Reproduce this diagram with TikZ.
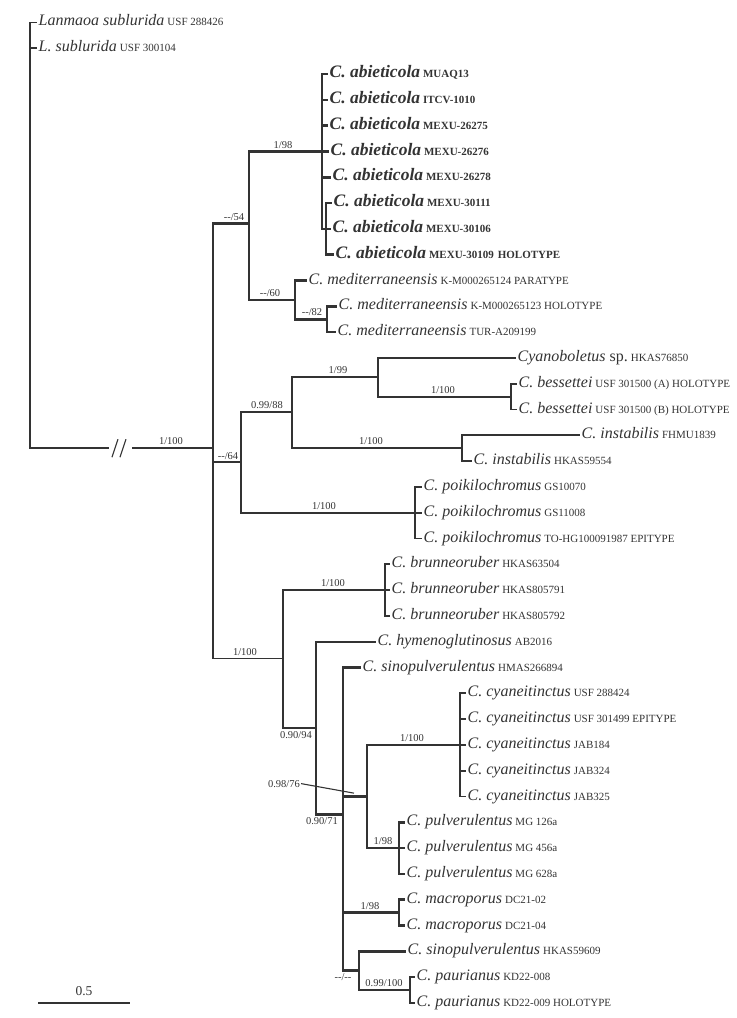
\documentclass[tikz,border=0pt]{standalone}
\usepackage{fontspec}
\setmainfont{Liberation Serif}
\usetikzlibrary{positioning}

\definecolor{treegray}{gray}{0.2}
\newcommand{\namesize}{\fontsize{16}{18}\selectfont}
\newcommand{\codesize}{\fontsize{11}{13}\selectfont}
\newcommand{\taxon}[2]{{\namesize\itshape #1}\hspace{3pt}{\codesize #2}}
\newcommand{\abiet}[1]{{\fontsize{17.5}{20}\selectfont\bfseries\itshape C. abieticola}\hspace{3pt}{\codesize\bfseries #1}}

\tikzset{
  branch/.style={draw=treegray, line width=1.8pt, line cap=rect, line join=miter},
  heavy/.style={branch, line width=2.6pt},
  leaf/.style={anchor=west, inner sep=2.5pt, text height=10pt, text depth=3pt, text=treegray},
  support/.style={font=\fontsize{10.5}{12}\selectfont, text=treegray, inner sep=1pt},
}

\begin{document}
\begin{tikzpicture}[x=1pt, y=-25.8pt]
  \useasboundingbox (0,-0.872) rectangle (736,38.585);

  % internal nodes (x in pt, y in rows)
  \coordinate (root) at (30,16.5);
  \coordinate (n1) at (213,16.5);
  \coordinate (n2) at (249,7.8);
  \coordinate (nA) at (322,5);
  \coordinate (nS) at (326,8);
  \coordinate (n4) at (295,10.75);
  \coordinate (n5) at (327,11.5);
  \coordinate (n3) at (241,17.05);
  \coordinate (n7) at (292,15.1);
  \coordinate (n8) at (378,13.75);
  \coordinate (n9) at (511,14.5);
  \coordinate (n10) at (462,16.5);
  \coordinate (n11) at (415,19);
  \coordinate (n12) at (283,24.65);
  \coordinate (n13) at (385,22);
  \coordinate (n14) at (316,27.35);
  \coordinate (n15) at (343,30.7);
  \coordinate (n16) at (367,30);
  \coordinate (n17) at (460,28);
  \coordinate (n18) at (399,32);
  \coordinate (n19) at (399,34.5);
  \coordinate (n20) at (359,36.75);
  \coordinate (n21) at (410,37.5);

  % leaves
  \node[leaf] (lan1) at (36,0) {\taxon{Lanmaoa sublurida}{USF 288426}};
  \node[leaf] (lan2) at (36,1) {\taxon{L. sublurida}{USF 300104}};
  \node[leaf] (abi1) at (327,2) {\abiet{MUAQ13}};
  \node[leaf] (abi2) at (327,3) {\abiet{ITCV-1010}};
  \node[leaf] (abi3) at (327,4) {\abiet{MEXU-26275}};
  \node[leaf] (abi4) at (328,5) {\abiet{MEXU-26276}};
  \node[leaf] (abi5) at (330,6) {\abiet{MEXU-26278}};
  \node[leaf] (abi6) at (331,7) {\abiet{MEXU-30111}};
  \node[leaf] (abi7) at (330,8) {\abiet{MEXU-30106}};
  \node[leaf] (abi8) at (333,9) {\abiet{MEXU-30109\hspace{4pt}HOLOTYPE}};
  \node[leaf] (med1) at (306,10) {\taxon{C. mediterraneensis}{K-M000265124 PARATYPE}};
  \node[leaf] (med2) at (336,11) {\taxon{C. mediterraneensis}{K-M000265123 HOLOTYPE}};
  \node[leaf] (med3) at (335,12) {\taxon{C. mediterraneensis}{TUR-A209199}};
  \node[leaf] (cyano) at (515,13) {{\namesize\itshape Cyanoboletus}{\namesize\ sp.}\hspace{3pt}{\codesize HKAS76850}};
  \node[leaf] (bes1) at (516,14) {\taxon{C. bessettei}{USF 301500 (A) HOLOTYPE}};
  \node[leaf] (bes2) at (516,15) {\taxon{C. bessettei}{USF 301500 (B) HOLOTYPE}};
  \node[leaf] (ins1) at (579,16) {\taxon{C. instabilis}{FHMU1839}};
  \node[leaf] (ins2) at (471,17) {\taxon{C. instabilis}{HKAS59554}};
  \node[leaf] (poi1) at (421,18) {\taxon{C. poikilochromus}{GS10070}};
  \node[leaf] (poi2) at (421,19) {\taxon{C. poikilochromus}{GS11008}};
  \node[leaf] (poi3) at (421,20) {\taxon{C. poikilochromus}{TO-HG100091987 EPITYPE}};
  \node[leaf] (bru1) at (389,21) {\taxon{C. brunneoruber}{HKAS63504}};
  \node[leaf] (bru2) at (389,22) {\taxon{C. brunneoruber}{HKAS805791}};
  \node[leaf] (bru3) at (389,23) {\taxon{C. brunneoruber}{HKAS805792}};
  \node[leaf] (hym) at (375,24) {\taxon{C. hymenoglutinosus}{AB2016}};
  \node[leaf] (sin1) at (360,25) {\taxon{C. sinopulverulentus}{HMAS266894}};
  \node[leaf] (cya1) at (465,26) {\taxon{C. cyaneitinctus}{USF 288424}};
  \node[leaf] (cya2) at (465,27) {\taxon{C. cyaneitinctus}{USF 301499 EPITYPE}};
  \node[leaf] (cya3) at (465,28) {\taxon{C. cyaneitinctus}{JAB184}};
  \node[leaf] (cya4) at (465,29) {\taxon{C. cyaneitinctus}{JAB324}};
  \node[leaf] (cya5) at (465,30) {\taxon{C. cyaneitinctus}{JAB325}};
  \node[leaf] (pul1) at (404,31) {\taxon{C. pulverulentus}{MG 126a}};
  \node[leaf] (pul2) at (404,32) {\taxon{C. pulverulentus}{MG 456a}};
  \node[leaf] (pul3) at (404,33) {\taxon{C. pulverulentus}{MG 628a}};
  \node[leaf] (mac1) at (404,34) {\taxon{C. macroporus}{DC21-02}};
  \node[leaf] (mac2) at (404,35) {\taxon{C. macroporus}{DC21-04}};
  \node[leaf] (sin2) at (405,36) {\taxon{C. sinopulverulentus}{HKAS59609}};
  \node[leaf] (pau1) at (414,37) {\taxon{C. paurianus}{KD22-008}};
  \node[leaf] (pau2) at (414,38) {\taxon{C. paurianus}{KD22-009 HOLOTYPE}};

  % main branch with break
  \coordinate (brk1) at (108,16.5);
  \coordinate (brk2) at (133,16.5);
  \draw[branch] (root) -- (brk1);
  \draw[branch] (brk2) -- (n1);
  \draw[treegray, line width=1.1pt] ([xshift=4pt,yshift=-9pt]brk1) -- ++(6pt,18pt)
    ([xshift=12pt,yshift=-9pt]brk1) -- ++(6pt,18pt);

  % branches
  \foreach \p/\c in {n1/n3, n1/n12, n3/n7, n3/n11, n7/n8, n7/n10, n8/n9, n12/n13, n12/n14}
    \draw[branch] (\p) |- (\c);
  \foreach \p/\c in {n1/n2, n2/nA, n2/n4, nA/nS, n4/n5, n14/n15, n15/n16, n15/n19, n15/n20, n16/n17, n16/n18, n20/n21}
    \draw[heavy] (\p) |- (\c);
  \foreach \p/\c in {root/lan1, root/lan2, n8/cyano, n9/bes1, n9/bes2, n10/ins1, n10/ins2,
      n11/poi1, n11/poi2, n11/poi3, n13/bru1, n13/bru2, n13/bru3, n14/hym,
      n17/cya1, n17/cya2, n17/cya3, n17/cya4, n17/cya5}
    \draw[branch] (\p) |- (\c.west);
  \foreach \p/\c in {nA/abi1, nA/abi2, nA/abi3, nA/abi4, nA/abi5, nS/abi6, nS/abi7, nS/abi8,
      n4/med1, n5/med2, n5/med3, n15/sin1, n18/pul1, n18/pul2, n18/pul3,
      n19/mac1, n19/mac2, n20/sin2, n21/pau1, n21/pau2}
    \draw[heavy] (\p) |- (\c.west);

  % support values
  \node[support, above=2pt] (s1) at (171,16.5) {1/100};
  \node[support, above=2pt] (s2) at (234,7.8) {-{}-/54};
  \node[support, above=2pt] (s3) at (283,5) {1/98};
  \node[support, above=2pt] (s4) at (270,10.75) {-{}-/60};
  \node[support, above=2pt] (s5) at (312,11.5) {-{}-/82};
  \node[support, above=2pt] (s6) at (228,17.05) {-{}-/64};
  \node[support, above=2pt] (s7) at (267,15.1) {0.99/88};
  \node[support, above=2pt] (s8) at (338,13.75) {1/99};
  \node[support, above=2pt] (s9) at (443,14.5) {1/100};
  \node[support, above=2pt] (s10) at (371,16.5) {1/100};
  \node[support, above=2pt] (s11) at (324,19) {1/100};
  \node[support, above=2pt] (s12) at (245,24.65) {1/100};
  \node[support, above=2pt] (s13) at (333,22) {1/100};
  \node[support, below=2pt] (s14) at (296,27.35) {0.90/94};
  \node[support] (s15) at (284,29.5) {0.98/76};
  \node[support, below=2pt] (s16) at (322,30.7) {0.90/71};
  \node[support, above=2pt] (s17) at (412,28) {1/100};
  \node[support, above=2pt] (s18) at (383,32) {1/98};
  \node[support, above=2pt] (s19) at (370,34.5) {1/98};
  \node[support, below=2pt] (s20) at (343,36.75) {-{}-/-{}-};
  \node[support, above=2pt] (s21) at (384,37.5) {0.99/100};
  \coordinate (p15) at (354,29.87);
  \draw[treegray, line width=1.1pt] (s15.east) -- (p15);

  % scale bar
  \coordinate (sb1) at (38,38);
  \coordinate (sb2) at (130,38);
  \draw[treegray, line width=1.4pt] (sb1) -- (sb2) node[midway, above=3pt, font=\fontsize{13.5}{15}\selectfont, text=treegray] (sblabel) {0.5};
\end{tikzpicture}
\end{document}
